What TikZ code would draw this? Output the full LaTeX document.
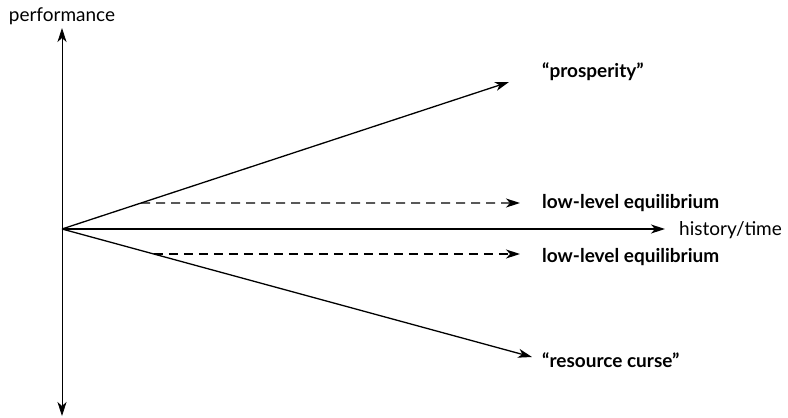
\documentclass[tikz,border=0pt]{standalone}
\usepackage{fontspec}
\setmainfont{Lato}
\usetikzlibrary{arrows.meta,intersections}

\begin{document}
\begin{tikzpicture}[x=1pt, y=-1pt, >={Stealth[length=14pt,width=9pt,inset=4pt]},
        lbl/.style={font=\fontsize{19}{22}\selectfont\bfseries, anchor=base west, inner sep=0pt},
        axlbl/.style={font=\fontsize{19}{22}\selectfont, inner sep=0pt}]
                \useasboundingbox (0,0) rectangle (788,418);
                \coordinate (o) at (62,229);
                \coordinate (top) at (62,28);
                \coordinate (bot) at (62,416);
                \coordinate (tend) at (665,229);
                \coordinate (pend) at (509,82);
                \coordinate (rend) at (532,357);
                \coordinate (up) at (520,203);
                \coordinate (dn) at (520,254);
                \node[axlbl, anchor=base] (perf) at (62,21) {performance};
                \node[axlbl, anchor=base west] (hist) at (679,235) {history/time};
                \node[lbl] (prosp) at (542,77) {“prosperity”};
                \node[lbl] (lowa) at (542,208) {low-level equilibrium};
                \node[lbl] (lowb) at (542,262) {low-level equilibrium};
                \node[lbl] (curse) at (542,367) {“resource curse”};
                \draw[<->, line width=0.8pt] (top) -- (bot);
                \draw[->, line width=1.3pt] (o) -- (tend);
                \draw[->, line width=1.3pt, name path=prosline] (o) -- (pend);
                \draw[->, line width=1.3pt, name path=curseline] (o) -- (rend);
                \path[name path=uprow] (100,203) -- (up);
                \path[name path=dnrow] (100,254) -- (dn);
                \draw[->, dashed, dash pattern=on 9pt off 6pt, line width=1.3pt, name intersections={of=prosline and uprow, by=ua}] (ua) -- (up);
                \draw[->, dashed, dash pattern=on 9pt off 6pt, line width=1.3pt, name intersections={of=curseline and dnrow, by=da}] (da) -- (dn);
            \end{tikzpicture}
\end{document}
